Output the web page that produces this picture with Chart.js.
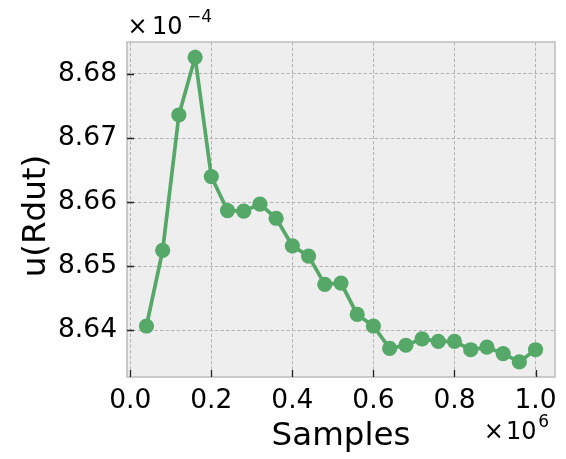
<!DOCTYPE html>
<html>
<head>
<meta charset="utf-8">
<script src="https://cdn.jsdelivr.net/npm/chart.js@4.4.1/dist/chart.umd.min.js"></script>
<style>
  html, body { margin: 0; padding: 0; background: #fff; }
</style>
</head>
<body>
<canvas id="chart" width="566" height="459"></canvas>
<script>
// samples drawn (x) and the uncertainty u(Rdut), in units of 1e-4 (y)
const samples = [40000, 80000, 120000, 160000, 200000, 240000, 280000, 320000, 360000, 400000,
  440000, 480000, 520000, 560000, 600000, 640000, 680000, 720000, 760000, 800000,
  840000, 880000, 920000, 960000, 1000000];
const uRdut = [8.6407, 8.6525, 8.6736, 8.6826, 8.6640, 8.6587, 8.6586, 8.6597, 8.6575, 8.6532,
  8.6516, 8.6472, 8.6474, 8.6425, 8.6407, 8.6372, 8.6377, 8.6387, 8.6383, 8.6383,
  8.6370, 8.6374, 8.6364, 8.6351, 8.6370];
const xTicks = [0, 200000, 400000, 600000, 800000, 1000000];
const yTicks = [8.64, 8.65, 8.66, 8.67, 8.68];
const xLabel = "Samples";
const yLabel = "u(Rdut)";

const FONT = "'DejaVu Sans', sans-serif";
const GREEN = "#55a868";

// axes background, frame, inward tick marks, labels and the ×10^n offsets
const decor = {
  id: "decor",
  beforeDraw(chart) {
    const { ctx, chartArea: a } = chart;
    ctx.save();
    ctx.fillStyle = "#fff";
    ctx.fillRect(0, 0, chart.width, chart.height);
    ctx.fillStyle = "#eeeeee";
    ctx.fillRect(a.left, a.top, a.right - a.left, a.bottom - a.top);
    ctx.restore();
  },
  afterDraw(chart) {
    const { ctx, chartArea: a, scales } = chart;
    ctx.save();
    ctx.strokeStyle = "#bcbcbc";
    ctx.lineWidth = 1.5;
    ctx.strokeRect(a.left, a.top, a.right - a.left, a.bottom - a.top);

    ctx.strokeStyle = "#222";
    ctx.lineWidth = 1.3;
    ctx.beginPath();
    xTicks.forEach(v => {
      const px = Math.round(scales.x.getPixelForValue(v)) + 0.5;
      ctx.moveTo(px, a.bottom);
      ctx.lineTo(px, a.bottom - 7);
    });
    yTicks.forEach(v => {
      const py = Math.round(scales.y.getPixelForValue(v)) + 0.5;
      ctx.moveTo(a.left, py);
      ctx.lineTo(a.left + 7, py);
    });
    ctx.stroke();

    ctx.fillStyle = "#000";
    ctx.textAlign = "center";
    ctx.textBaseline = "alphabetic";
    ctx.font = "32.5px " + FONT;
    ctx.fillText(xLabel, (a.left + a.right) / 2, 445);
    ctx.save();
    ctx.translate(45, 216);
    ctx.rotate(-Math.PI / 2);
    ctx.fillText(yLabel, 0, 0);
    ctx.restore();

    // offset text for y (top left)
    ctx.font = "24px " + FONT;
    ctx.fillText("\u00d7", 137.5, 34.3);
    ctx.fillText("10", 167.3, 34.3);
    ctx.font = "17px " + FONT;
    ctx.fillText("\u22124", 199.5, 21.5);
    // offset text for x (bottom right)
    ctx.font = "24px " + FONT;
    ctx.fillText("\u00d7", 493.7, 439);
    ctx.fillText("10", 521.3, 439);
    ctx.font = "17px " + FONT;
    ctx.fillText("6", 543.7, 426.7);
    ctx.restore();
  }
};

new Chart(document.getElementById("chart"), {
  type: "line",
  data: {
    datasets: [{
      data: samples.map((x, i) => ({ x: x, y: uRdut[i] })),
      borderColor: GREEN,
      backgroundColor: GREEN,
      pointBackgroundColor: GREEN,
      borderWidth: 3.7,
      pointRadius: 7.6,
      pointBorderWidth: 0,
      tension: 0,
      clip: false
    }]
  },
  options: {
    responsive: false,
    animation: false,
    devicePixelRatio: 1,
    layout: { padding: { top: 42, right: 11, left: 0, bottom: 0 } },
    plugins: { legend: { display: false }, tooltip: { enabled: false } },
    scales: {
      x: {
        type: "linear",
        min: -8000,
        max: 1048000,
        afterFit: s => { s.height = 82; },
        afterBuildTicks: s => { s.ticks = xTicks.map(v => ({ value: v })); },
        grid: { color: "#b4b4b4", lineWidth: 1, drawTicks: false },
        border: { display: false, dash: [3.5, 2] },
        ticks: {
          padding: 8,
          color: "#000",
          font: { family: FONT, size: 26.5 },
          maxRotation: 0,
          callback: v => (v / 1e6).toFixed(1)
        }
      },
      y: {
        type: "linear",
        min: 8.63275,
        max: 8.68498,
        afterFit: s => { s.width = 127; },
        afterBuildTicks: s => { s.ticks = yTicks.map(v => ({ value: v })); },
        grid: { color: "#b4b4b4", lineWidth: 1, drawTicks: false },
        border: { display: false, dash: [3.5, 2] },
        ticks: {
          padding: 10,
          color: "#000",
          font: { family: FONT, size: 26.5 },
          callback: v => v.toFixed(2)
        }
      }
    }
  },
  plugins: [decor]
});
</script>
</body>
</html>
